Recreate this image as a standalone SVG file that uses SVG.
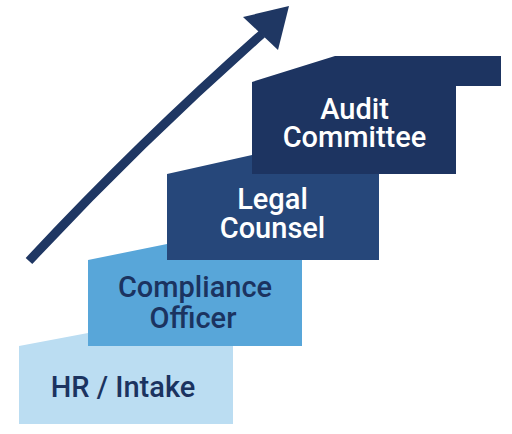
<svg xmlns="http://www.w3.org/2000/svg" width="512" height="434" viewBox="0 0 512 434">
<style>
.lbl{font-family:Roboto,"Liberation Sans",Arial,sans-serif;font-weight:500;font-size:29px;text-anchor:middle}
.dark{fill:#1B3360}
.light{fill:#FFFFFF}
</style>
<rect width="512" height="434" fill="#FFFFFF"/>
<g id="connectors">
<path d="M29,261 Q140,142 262,34" fill="none" stroke="#1F3763" stroke-width="9" stroke-linecap="butt"/>
<polygon points="289,6 243,17 278,50" fill="#1F3763"/>
</g>
<g id="hr-intake">
<polygon points="19,346 88,333 88,346 233,346 233,424 19,424" fill="#BBDDF2"/>
<text class="lbl dark" x="123" y="397">HR / Intake</text>
</g>
<g id="compliance-officer">
<polygon points="88,260 167,244 167,260 302,260 302,346 88,346" fill="#58A6D9"/>
<text class="lbl dark" x="195" y="297">Compliance</text>
<text class="lbl dark" x="193" y="328">Officer</text>
</g>
<g id="legal-counsel">
<polygon points="167,174 252,155 252,174 379,174 379,260 167,260" fill="#26477A"/>
<text class="lbl light" x="272.5" y="209">Legal</text>
<text class="lbl light" x="272.5" y="238">Counsel</text>
</g>
<g id="audit-committee">
<polygon points="252,82 335,56 501,56 501,86 456,86 456,174 252,174" fill="#1D3461"/>
<text class="lbl light" x="354.5" y="119">Audit</text>
<text class="lbl light" x="354.5" y="147">Committee</text>
</g>
</svg>
